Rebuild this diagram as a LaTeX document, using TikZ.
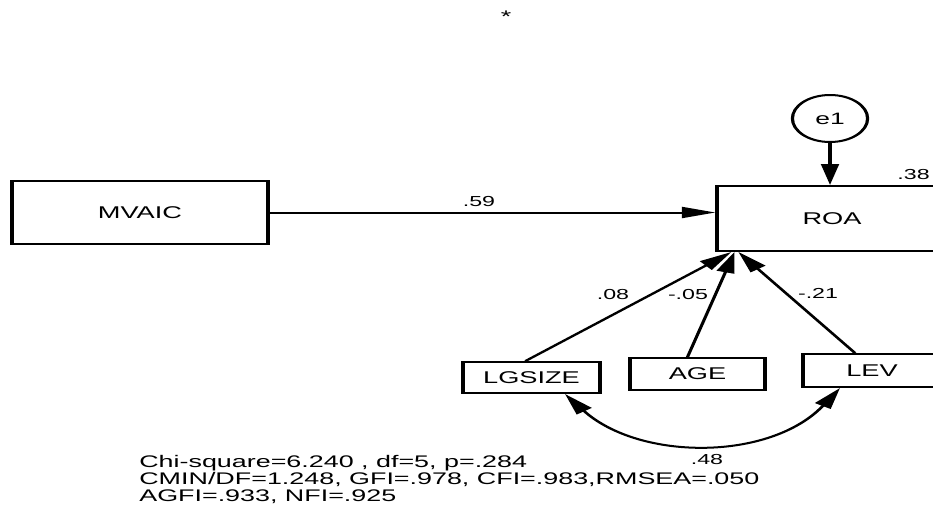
\documentclass[tikz,border=0pt]{standalone}
\usepackage{fontspec}
\setmainfont{Liberation Sans}
\usetikzlibrary{arrows.meta,calc}
\begin{document}
\begin{tikzpicture}[x=1pt,y=-1pt]
\useasboundingbox[fill=white] (0,0) rectangle (933,506);
\begin{scope}[x=0.625pt,y=-1pt,transform canvas={xscale=1.6},
  box/.style={draw,line width=2pt,inner sep=0pt,font=\fontsize{17}{18}\selectfont},
  coef/.style={font=\fontsize{14.5}{15}\selectfont,inner sep=0pt},
  big/.style={font=\fontsize{16.8}{17}\selectfont,inner sep=0pt},
  conn/.style={line width=2pt,-{Triangle[length=21pt,width=11pt]}},
  dconn/.style={line width=2pt,{Triangle[length=21pt,width=11pt]}-{Triangle[length=21pt,width=11pt]}}]
  % nodes
  \node[box,minimum width=160pt,minimum height=63pt] (MVAIC) at (140,212.5) {MVAIC};
  \node[box,minimum width=143.75pt,minimum height=65pt] (ROA) at (832,218.5) {ROA};
  \node[draw,circle,line width=2pt,minimum size=47pt,inner sep=0pt,font=\fontsize{16.5}{18}\selectfont] (e1) at (830,118.5) {e1};
  \node[box,minimum width=85.6pt,minimum height=31pt] (LGSIZE) at (531.5,377.5) {LGSIZE};
  \node[box,minimum width=84.4pt,minimum height=32pt] (AGE) at (697.5,374) {AGE};
  \node[box,minimum width=86.25pt,minimum height=33pt] (LEV) at (872,370.5) {LEV};
  % target points on ROA
  \coordinate (t1) at ($(ROA.south west)+(16,0)$);
  \coordinate (t2) at ($(ROA.south west)+(19,0)$);
  \coordinate (t3) at ($(ROA.south west)+(23,0)$);
  % connectors
  \draw[conn] (MVAIC.east) -- (MVAIC.east -| ROA.west);
  \draw[conn] (e1.south) -- (e1.south |- ROA.north);
  \draw[conn] ($(LGSIZE.north)+(-6,0)$) -- (t1);
  \draw[conn] ($(AGE.north)+(-10,0)$) -- (t2);
  \draw[conn] ($(LEV.north)+(-17,0)$) -- (t3);
  \draw[dconn] ($(LGSIZE.south)+(33.5,0)$) .. controls (640,461) and (770,461) .. ($(LEV.south)+(-32,0)$);
  % labels
  \node[coef] (l59) at (479,202) {.59};
  \node[coef] (l08) at (613,295) {.08};
  \node[coef] (l05) at (688,295) {-.05};
  \node[coef] (l21) at (818,293) {-.21};
  \node[coef] (l48) at (707,460) {.48};
  \node[coef,anchor=east] (l38) at (930,175) {.38};
  \node[big,anchor=base] (star) at (506,22) {*};
  \node[big,anchor=base west] (fit1) at (139,467) {Chi-square=6.240 , df=5, p=.284};
  \node[big,anchor=base west] (fit2) at (139,484) {CMIN/DF=1.248, GFI=.978, CFI=.983,RMSEA=.050};
  \node[big,anchor=base west] (fit3) at (139,501) {AGFI=.933, NFI=.925};
\end{scope}
\end{tikzpicture}
\end{document}
